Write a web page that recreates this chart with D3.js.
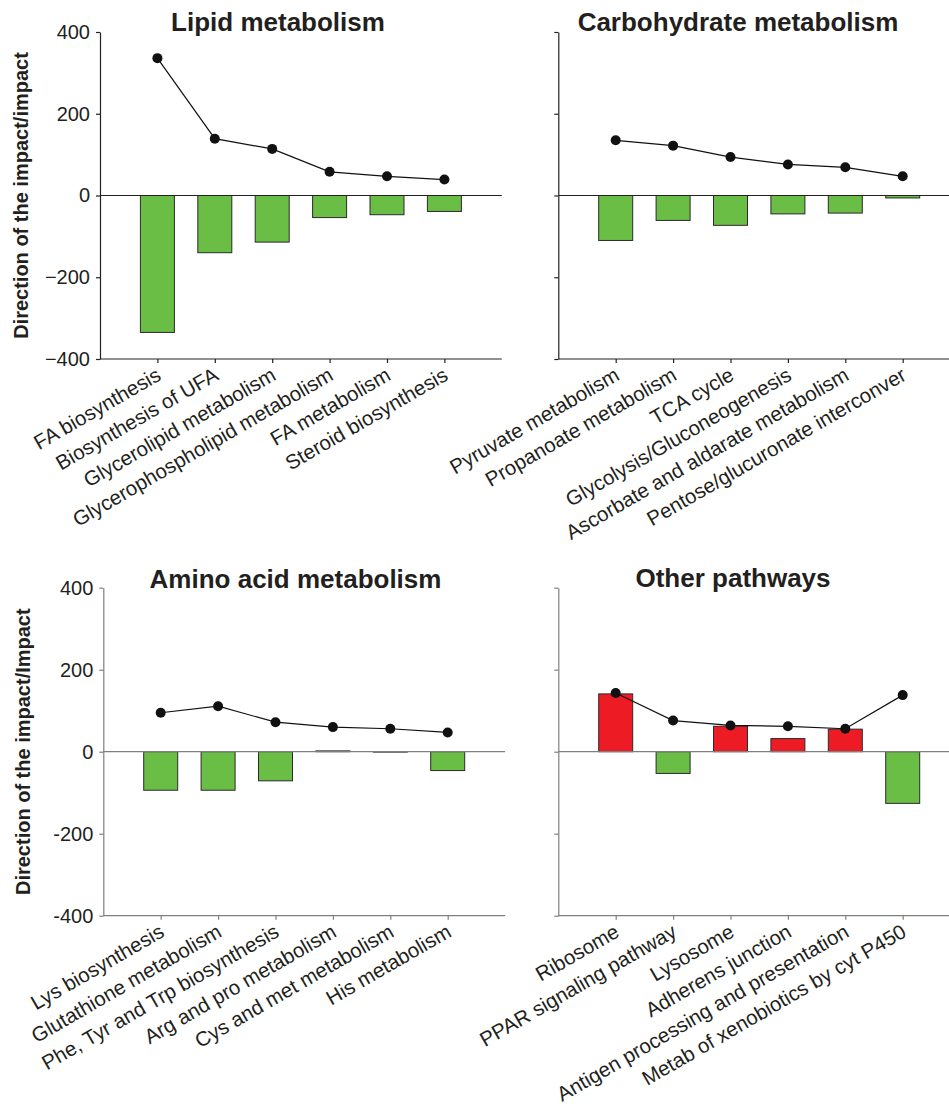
<!DOCTYPE html>
<html>
<head>
<meta charset="utf-8">
<script src="https://cdn.jsdelivr.net/npm/d3@7"></script>
<style>
  body { margin: 0; background: #fff; }
  svg { display: block; font-family: "Liberation Sans", Arial, Helvetica, sans-serif; }
</style>
</head>
<body>
<div id="chart"></div>
<script>
// 各面板数据
var lipidCats = ["FA biosynthesis", "Biosynthesis of UFA", "Glycerolipid metabolism",
    "Glycerophospholipid metabolism", "FA metabolism", "Steroid biosynthesis"];
var lipidDir = [-335, -140, -114, -54, -47, -39];
var lipidImpact = [336, 139, 114, 58, 47, 39];

var carbCats = ["Pyruvate metabolism", "Propanoate metabolism", "TCA cycle",
    "Glycolysis/Gluconeogenesis", "Ascorbate and aldarate metabolism", "Pentose/glucuronate interconver"];
var carbDir = [-110, -61, -73, -45, -43, -6];
var carbImpact = [135, 122, 94, 76, 69, 47];

var aminoCats = ["Lys biosynthesis", "Glutathione metabolism", "Phe, Tyr and Trp biosynthesis",
    "Arg and pro metabolism", "Cys and met metabolism", "His metabolism"];
var aminoDir = [-94, -94, -71, 2, -1, -46];
var aminoImpact = [95, 111, 72, 60, 56, 47];

var otherCats = ["Ribosome", "PPAR signaling pathway", "Lysosome", "Adherens junction",
    "Antigen processing and presentation", "Metab of xenobiotics by cyt P450"];
var otherDir = [141, -53, 62, 32, 55, -126];
var otherImpact = [143, 76, 64, 62, 56, 138];

var yTicks = [-400, -200, 0, 200, 400];

var W = 949, H = 1107;
var GREEN = "#6abd45", RED = "#ed1c24", TEXT = "#231f20";

var svg = d3.select("#chart").append("svg")
    .attr("width", W)
    .attr("height", H);

var panels = [
    {title: "Lipid metabolism", cats: lipidCats, dir: lipidDir, impact: lipidImpact,
        ax: 100, top: 32, bottom: 359, titleX: 278, titleY: 31, axisColor: "#222",
        yLabel: "Direction of the impact/impact", labelX: 28, tickLabels: true, hyphen: false},
    {title: "Carbohydrate metabolism", cats: carbCats, dir: carbDir, impact: carbImpact,
        ax: 558.3, top: 32, bottom: 359, titleX: 738, titleY: 31, axisColor: "#222",
        yLabel: null, tickLabels: false},
    {title: "Amino acid metabolism", cats: aminoCats, dir: aminoDir, impact: aminoImpact,
        ax: 103.3, top: 587.7, bottom: 915.7, titleX: 295.5, titleY: 588, axisColor: "#7f7f7f",
        yLabel: "Direction of the impact/Impact", labelX: 30, tickLabels: true, hyphen: true},
    {title: "Other pathways", cats: otherCats, dir: otherDir, impact: otherImpact,
        ax: 558.3, top: 587.7, bottom: 915.7, titleX: 733, titleY: 587, axisColor: "#7f7f7f",
        yLabel: null, tickLabels: false}
];

panels.forEach(function (p) {
    drawPanel(p);
});

//绘制单个面板
function drawPanel(p) {
    var step = 57.4;
    var xEnd = Math.min(p.ax + step * 7, W);
    var x = d3.scalePoint()
        .domain(p.cats)
        .range([p.ax, p.ax + step * 7])
        .padding(1);
    var y = d3.scaleLinear()
        .domain([-400, 400])
        .range([p.bottom, p.top]);

    var g = svg.append("g");

    // 标题
    g.append("text")
        .attr("x", p.titleX)
        .attr("y", p.titleY)
        .attr("text-anchor", "middle")
        .attr("font-size", 26)
        .attr("font-weight", "bold")
        .attr("fill", TEXT)
        .text(p.title);

    // y轴
    var yAxis = d3.axisLeft(y)
        .tickValues(yTicks)
        .tickSize(4)
        .tickSizeOuter(0)
        .tickPadding(6)
        .tickFormat(function (d) {
            if (!p.tickLabels) return "";
            var s = d3.format("d")(d);
            return p.hyphen ? s.replace("\u2212", "-") : s;
        });
    var gy = g.append("g")
        .attr("transform", "translate(" + p.ax + ",0)")
        .call(yAxis);
    gy.select(".domain").attr("stroke", p.axisColor).attr("stroke-width", 1.2);
    gy.selectAll(".tick line").attr("stroke", p.axisColor).attr("stroke-width", 1.2);
    gy.selectAll(".tick text")
        .attr("font-size", 20)
        .attr("fill", TEXT)
        .attr("font-family", "\"Liberation Sans\", Arial, sans-serif");

    // x轴
    var xAxis = d3.axisBottom(x)
        .tickSize(4)
        .tickSizeOuter(0)
        .tickFormat("");
    var gx = g.append("g")
        .attr("transform", "translate(0," + p.bottom + ")")
        .call(xAxis);
    gx.select(".domain").remove();
    gx.append("line")
        .attr("x1", p.ax).attr("x2", xEnd)
        .attr("stroke", p.axisColor)
        .attr("stroke-width", 1.2);
    gx.selectAll(".tick line").attr("stroke", p.axisColor).attr("stroke-width", 1.2);

    // 类别标签
    g.append("g").selectAll("text")
        .data(p.cats)
        .enter()
        .append("text")
        .attr("transform", function (d) {
            return "translate(" + (x(d) + 5) + "," + (p.bottom + 20) + ") rotate(-30)";
        })
        .attr("text-anchor", "end")
        .attr("font-size", 20.5)
        .attr("fill", TEXT)
        .text(function (d) { return d; });

    // 柱子
    var bw = 34;
    g.append("g").selectAll("rect")
        .data(p.dir)
        .enter()
        .append("rect")
        .attr("x", function (d, i) { return x(p.cats[i]) - bw / 2; })
        .attr("y", function (d) { return y(Math.max(0, d)); })
        .attr("width", bw)
        .attr("height", function (d) { return Math.abs(y(d) - y(0)); })
        .attr("fill", function (d) { return d > 0 && p.title === "Other pathways" ? RED : GREEN; })
        .attr("stroke", "#2b2b2b")
        .attr("stroke-width", 1);

    // 零线
    g.append("line")
        .attr("x1", p.ax).attr("x2", xEnd)
        .attr("y1", y(0)).attr("y2", y(0))
        .attr("stroke", p.axisColor)
        .attr("stroke-width", 1.2);

    // 折线和点
    var line = d3.line()
        .x(function (d, i) { return x(p.cats[i]); })
        .y(function (d) { return y(d); });
    g.append("path")
        .datum(p.impact)
        .attr("d", line)
        .attr("fill", "none")
        .attr("stroke", "#111")
        .attr("stroke-width", 1.2);
    g.append("g").selectAll("circle")
        .data(p.impact)
        .enter()
        .append("circle")
        .attr("cx", function (d, i) { return x(p.cats[i]); })
        .attr("cy", function (d) { return y(d); })
        .attr("r", 5)
        .attr("fill", "#111");

    // y轴标题
    if (p.yLabel) {
        g.append("text")
            .attr("transform", "translate(" + p.labelX + "," + ((p.top + p.bottom) / 2) + ") rotate(-90)")
            .attr("text-anchor", "middle")
            .attr("font-size", 20)
            .attr("font-weight", "bold")
            .attr("fill", TEXT)
            .text(p.yLabel);
    }
}
</script>
</body>
</html>
